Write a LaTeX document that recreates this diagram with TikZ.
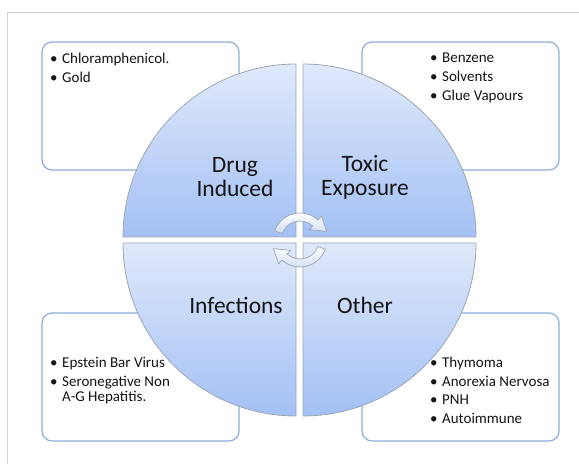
\documentclass[tikz,border=0pt]{standalone}
\usepackage{fontspec}
\setmainfont{Carlito}
\definecolor{framegray}{RGB}{208,208,208}
\definecolor{boxblue}{RGB}{143,174,218}
\definecolor{qlight}{RGB}{224,233,251}
\definecolor{qdark}{RGB}{163,192,245}
\definecolor{qedge}{RGB}{158,165,178}
\definecolor{arrowblue}{RGB}{210,222,244}
\definecolor{textdark}{RGB}{20,20,20}
\tikzset{
	listbox/.style = {draw = boxblue, line width = 1.2pt, fill = white, rounded corners = 10pt},
	quadrant/.style = {draw = qedge, line width = 0.8pt, top color = qlight, bottom color = qdark},
	cyclearrow/.style = {draw = qedge, line width = 0.7pt, top color = white, bottom color = arrowblue},
	biglabel/.style = {inner sep = 0pt, align = center, text = textdark, font = \fontsize{23.5}{24}\selectfont},
	bullets/.style = {inner sep = 0pt, anchor = base west, align = left, text = textdark, font = \fontsize{15}{16}\selectfont}
}
\newcommand{\itm}{\makebox[12pt][l]{\textbullet}}
\newcommand{\itmcont}{\hspace*{12pt}}
\begin{document}
\begin{tikzpicture}[x = 1pt, y = 1pt]
	\useasboundingbox (0,0) rectangle (579,464);
	% frame
	\draw [framegray, line width = 1pt] (7,0) -- (7,451) -- (579,451);
	% list boxes
	\draw [listbox] (42,294) rectangle (239,422);
	\draw [listbox] (362,294) rectangle (559,422);
	\draw [listbox] (42,23) rectangle (239,151);
	\draw [listbox] (362,23) rectangle (559,151);
	% quadrants
	\draw [quadrant] (296,227) -- (123,227) arc [start angle = 180, end angle = 90, radius = 173] -- cycle;
	\draw [quadrant] (303,227) -- (303,400) arc [start angle = 90, end angle = 0, radius = 173] -- cycle;
	\draw [quadrant] (296,221) -- (296,48) arc [start angle = 270, end angle = 180, radius = 173] -- cycle;
	\draw [quadrant] (303,221) -- (476,221) arc [start angle = 0, end angle = -90, radius = 173] -- cycle;
	% circular arrows
	\foreach \ang in {0,180} {
		\begin{scope}[shift = {(300,224)}, rotate = \ang]
			\draw [cyclearrow] (160:27) arc [start angle = 160, end angle = 48, radius = 27]
				-- (48:32) -- (18:28) -- (48:14) -- (48:19)
				arc [start angle = 48, end angle = 160, radius = 19] -- cycle;
		\end{scope}
	}
	% quadrant labels
	\node [biglabel] (drug) at (235,287) {Drug\\Induced};
	\node [biglabel] (toxic) at (365,287) {Toxic\\Exposure};
	\node [biglabel] (infect) at (236,159) {Infections};
	\node [biglabel] (other) at (365,159) {Other};
	% lists (base = last line)
	\node [bullets] (druglist) at (50,381) {\itm Chloramphenicol.\\[3pt]\itm Gold};
	\node [bullets] (toxiclist) at (430,363) {\itm Benzene\\[3pt]\itm Solvents\\[3pt]\itm Glue Vapours};
	\node [bullets] (infectlist) at (50,62) {\itm Epstein Bar Virus\\[3pt]\itm Seronegative Non\\\itmcont A-G Hepatitis.};
	\node [bullets] (otherlist) at (430,40) {\itm Thymoma\\[3pt]\itm Anorexia Nervosa\\[3pt]\itm PNH\\[3pt]\itm Autoimmune};
\end{tikzpicture}
\end{document}
